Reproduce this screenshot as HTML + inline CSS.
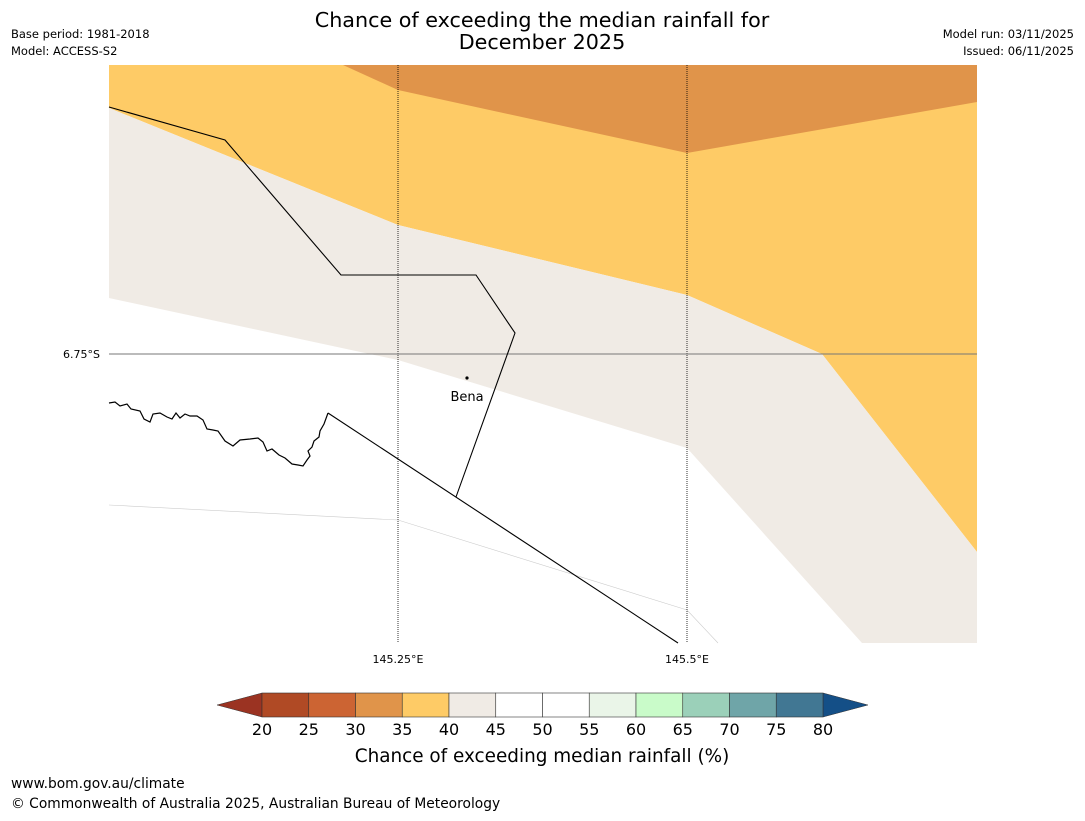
<!DOCTYPE html>
<html><head><meta charset="utf-8"><style>
body{margin:0;background:#fff;font-family:"Liberation Sans","DejaVu Sans",sans-serif}
</style></head><body>
<svg width="1085" height="816" viewBox="0 0 1085 816" xmlns="http://www.w3.org/2000/svg" font-family="DejaVu Sans, Liberation Sans, sans-serif">
<text x="542" y="27" font-size="20.7" text-anchor="middle">Chance of exceeding the median rainfall for</text>
<text x="542" y="49" font-size="20.7" text-anchor="middle">December 2025</text>
<text x="11" y="38" font-size="11.5">Base period: 1981-2018</text>
<text x="11" y="55" font-size="11.5">Model: ACCESS-S2</text>
<text x="1074" y="38" font-size="11.5" text-anchor="end">Model run: 03/11/2025</text>
<text x="1074" y="55" font-size="11.5" text-anchor="end">Issued: 06/11/2025</text>
<g>
<rect x="109" y="65" width="868" height="578" fill="#fff"/>
<polygon fill="#fecb66" points="109,65 977,65 977,552 822,354 687,295 398,225 109,108"/>
<polygon fill="#e0944a" points="343,65 398,90 687,153 977,102 977,65"/>
<polygon fill="#f0ebe5" points="109,108 398,225 687,295 822,354 977,552 977,643 862,643 687,448 398,360 109,298"/>
<polyline fill="none" stroke="#ccc" stroke-width="0.6" points="109,505 398,520 687,610 718,643"/>
<line x1="398" y1="65" x2="398" y2="643" stroke="#000" stroke-width="0.8" stroke-dasharray="1,1"/>
<line x1="687" y1="65" x2="687" y2="643" stroke="#000" stroke-width="0.8" stroke-dasharray="1,1"/>
<line x1="109" y1="354" x2="977" y2="354" stroke="#777" stroke-width="1"/>
<polyline fill="none" stroke="#000" stroke-width="1.1" points="109,107 225,140 341,275 476,275 515,333 456,497"/>
<polyline fill="none" stroke="#000" stroke-width="1.1" points="328,413 678,643"/>
<path fill="none" stroke="#000" stroke-width="1.2" d="M109,403 L115,402 L120,406 L127,404 L131,409 L140,411 L144,419 L150,422 L153,414 L160,413 L167,417 L172,419 L176,413 L180,418 L185,414 L190,416 L197,416 L203,420 L207,429 L213,430 L218,431 L225,441 L233,446 L240,440 L250,439 L258,438 L263,442 L267,451 L272,449 L279,455 L285,458 L292,464 L298,465 L303,466 L307,460 L310,456 L308,451 L312,447 L314,441 L319,437 L320,431 L324,424 L328,413"/>
<circle cx="467" cy="378" r="1.6" fill="#000"/>
<text x="467" y="401" font-size="13" text-anchor="middle">Bena</text>
<text x="100" y="358" font-size="11" text-anchor="end">6.75°S</text>
<text x="398" y="663" font-size="11" text-anchor="middle">145.25°E</text>
<text x="687" y="663" font-size="11" text-anchor="middle">145.5°E</text>
</g>
<g id="cbar"></g>
<text x="542" y="762" font-size="18.4" text-anchor="middle">Chance of exceeding median rainfall (%)</text>
<text x="11" y="788" font-size="13.8">www.bom.gov.au/climate</text>
<text x="11" y="808" font-size="13.8">© Commonwealth of Australia 2025, Australian Bureau of Meteorology</text>
</svg>
<script>
const levels=[20,25,30,35,40,45,50,55,60,65,70,75,80];
const binColors=["#b04a25","#cc6433","#e0944a","#fecb66","#f0ebe5","#ffffff","#ffffff","#eaf5e8","#c9fbc9","#9bd0b9","#6fa5a8","#417793"];
const underColor="#9b3322", overColor="#144f87";
const ns="http://www.w3.org/2000/svg";
const g=document.getElementById('cbar');
const x0=262,x1=823,y0=693,y1=717;
const sx=v=>x0+(v-levels[0])/(levels[levels.length-1]-levels[0])*(x1-x0);
function mk(t,a){const e=document.createElementNS(ns,t);for(const k in a)e.setAttribute(k,a[k]);g.appendChild(e);return e;}
let tl=mk('polygon',{points:`${x0},${y0} ${x0-45},${(y0+y1)/2} ${x0},${y1}`,fill:underColor,stroke:'#333','stroke-width':0.5});


let tr=mk('polygon',{points:`${x1},${y0} ${x1+45},${(y0+y1)/2} ${x1},${y1}`,fill:overColor,stroke:'#333','stroke-width':0.5});


binColors.forEach((c,i)=>{
 const r=mk('rect',{x:sx(levels[i]),y:y0,width:sx(levels[i+1])-sx(levels[i]),height:y1-y0,fill:c,stroke:'#333','stroke-width':0.6});
 
 
});
levels.forEach(v=>{
 const t=mk('text',{x:sx(v),y:735,'font-size':16,'text-anchor':'middle'});
 t.textContent=v;
 
 
});
</script>
</body></html>
